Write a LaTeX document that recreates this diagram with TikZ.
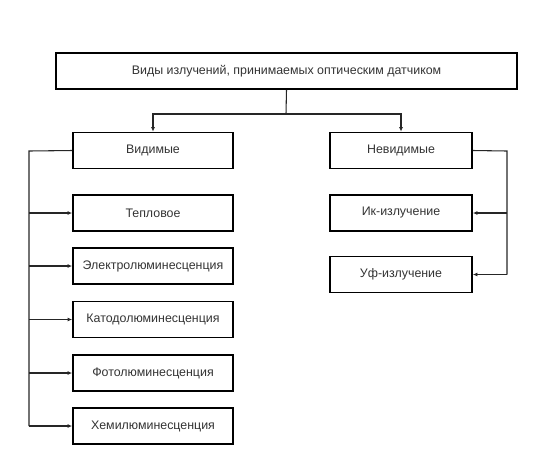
\documentclass[tikz,border=0pt]{standalone}
\usepackage{fontspec}
\setmainfont{Liberation Sans}
\usetikzlibrary{arrows.meta}

\begin{document}
\begin{tikzpicture}[x=0.75pt,y=-0.75pt]
\useasboundingbox (0,0) rectangle (536,462);
\begin{scope}[every node/.style={rectangle,draw=black,line width=1.2pt,minimum width=120pt,minimum height=27pt,inner sep=0pt,text=black!80,font=\fontsize{9.3}{11}\selectfont}]
    \node (top) [minimum width=345.75pt] at (286.5,71) {Виды излучений, принимаемых оптическим датчиком};
    \node (vid) at (153,150.5) {Видимые};
    \node (tep) at (153,213) {Тепловое};
    \node (ele) at (153,266) {Электролюминесценция};
    \node (kat) at (153,319.5) {Катодолюминесценция};
    \node (fot) at (153,373) {Фотолюминесценция};
    \node (hem) at (153,426) {Хемилюминесценция};
    \node (nev) [minimum width=106.5pt] at (401,150.5) {Невидимые};
    \node (ik) [minimum width=106.5pt] at (401,213) {Ик-излучение};
    \node (uf) [minimum width=106.5pt] at (401,274.5) {Уф-излучение};
\end{scope}

\coordinate (split) at (286,114);
\coordinate (lbus) at (29,151);
\coordinate (rbus) at (507,151);

\begin{scope}[every path/.style={draw=black!85,line width=0.8pt},
              arr/.style={-{Latex[length=3.5pt,width=3pt]}}]
    \draw (top.south) -- (split);
    \draw[arr] (split) -| (vid.north);
    \draw[arr] (split) -| (nev.north);
    \draw (vid.west) -- (lbus) -- (lbus |- hem.west);
    \foreach \n in {tep,ele,kat,fot,hem}
        \draw[arr] (lbus |- \n.west) -- (\n.west);
    \draw (nev.east) -- (rbus) -- (rbus |- uf.east);
    \foreach \n in {ik,uf}
        \draw[arr] (rbus |- \n.east) -- (\n.east);
\end{scope}
\end{tikzpicture}
\end{document}
